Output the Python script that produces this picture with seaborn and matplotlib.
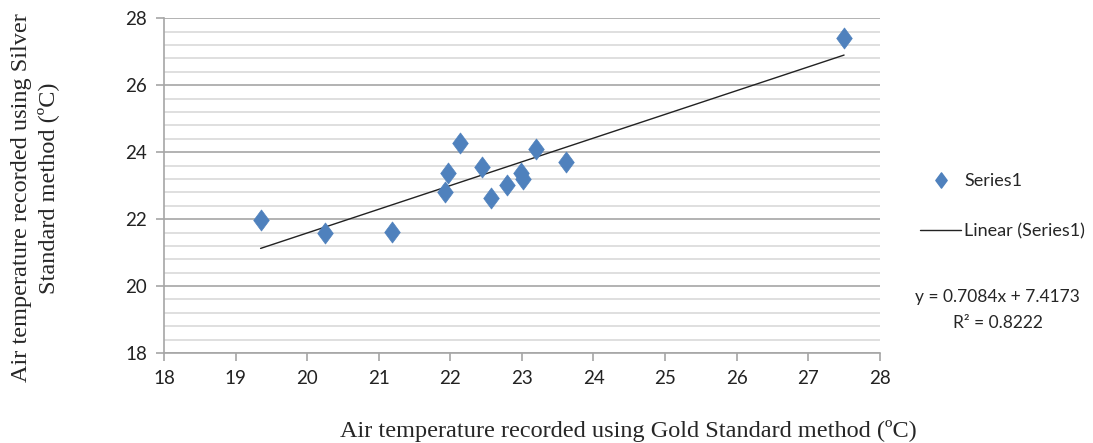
import numpy as np
import pandas as pd
import matplotlib
matplotlib.use("Agg")
import matplotlib.pyplot as plt
from matplotlib.path import Path
from matplotlib.lines import Line2D
from matplotlib.ticker import MultipleLocator
import seaborn as sns

# Readings (ºC): gold standard vs silver standard
gold = [19.35, 20.25, 21.18, 21.92, 21.97, 22.13, 22.44, 22.57,
        22.79, 22.99, 23.01, 23.19, 23.62, 27.50]
silver = [21.97, 21.58, 21.61, 22.80, 23.39, 24.26, 23.57, 22.64,
          23.02, 23.39, 23.20, 24.10, 23.71, 27.42]

# Excel linear trendline as reported on the chart
slope = 0.7084
intercept = 7.4173
r_squared = 0.8222

df = pd.DataFrame({"gold": gold, "silver": silver})

sns.set_theme(style="white")
plt.rcParams["font.family"] = ["Lato", "DejaVu Sans"]

fig = plt.figure(figsize=(10.93, 4.43), dpi=100)
ax = fig.add_axes([0.150, 0.203, 0.655, 0.756])

# minor grid first (light), major on top
ax.set_xlim(18, 28)
ax.set_ylim(18, 28)
ax.xaxis.set_major_locator(MultipleLocator(1))
ax.yaxis.set_major_locator(MultipleLocator(2))
ax.yaxis.set_minor_locator(MultipleLocator(0.4))
ax.grid(False)
ax.grid(axis="y", which="minor", color="#d9d9d9", linewidth=1.2)
ax.grid(axis="y", which="major", color="#a6a6a6", linewidth=1.2)
ax.set_axisbelow(True)

# trendline
xs = np.array([min(gold), max(gold)])
ax.plot(xs, slope * xs + intercept, color="#222222", linewidth=1.0, zorder=2)

diamond = Path([(0, 1), (0.74, 0), (0, -1), (-0.74, 0), (0, 1)],
               [Path.MOVETO, Path.LINETO, Path.LINETO, Path.LINETO, Path.CLOSEPOLY])
sns.scatterplot(data=df, x="gold", y="silver", ax=ax, marker=diamond, s=230,
                color="#4f81bd", edgecolor="#4f81bd", linewidth=0.5, zorder=3,
                legend=False)

for side in ["top", "right"]:
    ax.spines[side].set_visible(False)
for side in ["left", "bottom"]:
    ax.spines[side].set_color("#a6a6a6")
    ax.spines[side].set_linewidth(1.2)

ax.tick_params(axis="both", which="major", direction="out", length=6,
               width=1.2, color="#a6a6a6", labelsize=13.5, labelcolor="#222222",
               left=True, bottom=True, pad=6)
ax.tick_params(axis="y", which="minor", left=False)

ax.set_xlabel("")
ax.set_ylabel("")

serif = ["Liberation Serif", "DejaVu Serif"]
fig.text(0.575, 0.028, "Air temperature recorded using Gold Standard method (ºC)",
         ha="center", va="center", fontsize=17.5, family=serif)
fig.text(0.020, 0.555, "Air temperature recorded using Silver",
         ha="center", va="center", rotation=90, fontsize=17.5, family=serif)
fig.text(0.044, 0.575, "Standard method (ºC)",
         ha="center", va="center", rotation=90, fontsize=17.5, family=serif)

handles = [
    Line2D([], [], marker=diamond, linestyle="none", markersize=11,
           color="#4f81bd", label="Series1"),
    Line2D([], [], color="#222222", linewidth=1.0, label="Linear (Series1)"),
]
fig.legend(handles=handles, loc="upper left", bbox_to_anchor=(0.835, 0.625),
           frameon=False, fontsize=13, labelspacing=1.9, handlelength=2.3,
           handletextpad=0.15, borderaxespad=0)

fig.text(0.913, 0.300, f"y = {slope}x + {intercept}\nR² = {r_squared}",
         ha="center", va="center", fontsize=12.5, linespacing=1.75)

fig.savefig("out.png", dpi=100)
